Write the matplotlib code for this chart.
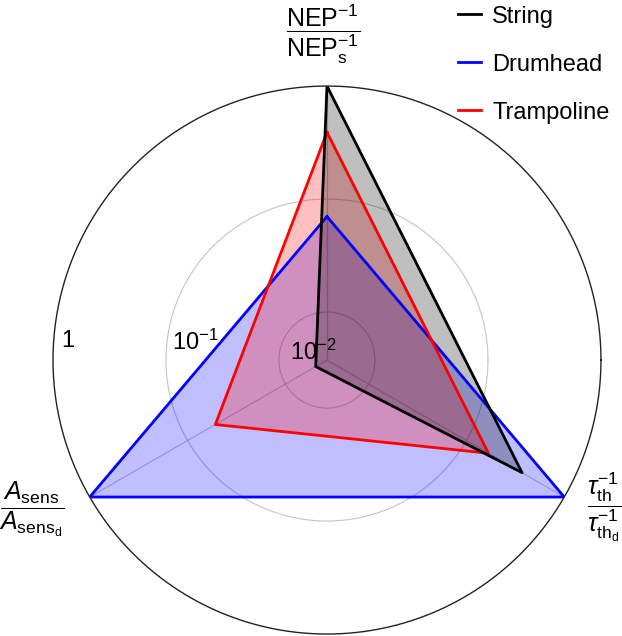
import numpy as np
import matplotlib.pyplot as plt

plt.rcParams['font.family'] = ['Liberation Sans', 'DejaVu Sans']
plt.rcParams['mathtext.fontset'] = 'custom'
plt.rcParams['mathtext.rm'] = 'Liberation Sans'
plt.rcParams['mathtext.it'] = 'Liberation Sans:italic'

# axes: NEP^-1 (top), tau^-1 (lower right), A_sens (lower left)
angles_deg = [90, 330, 210]
string_vals = [1.0, 0.37, 0.0049]
drum_vals = [0.07, 1.0, 1.0]
tramp_vals = [0.39, 0.168, 0.052]
names = ['String', 'Drumhead', 'Trampoline']
colors = ['black', 'blue', 'red']
rmin = -2.425

fig = plt.figure(figsize=(6.22, 6.36), dpi=100)
ax = fig.add_axes([0.0852, 0.0031, 0.881, 0.8616], projection='polar')

theta = np.deg2rad(angles_deg + angles_deg[:1])
series = [string_vals, drum_vals, tramp_vals]

# fills first (drum, trampoline, string), then outlines
for i in [1, 2, 0]:
    r = np.log10(series[i] + series[i][:1])
    ax.fill(theta, r, color=colors[i], alpha=0.25, lw=0, zorder=2)
handles = {}
for i in [1, 2, 0]:
    r = np.log10(series[i] + series[i][:1])
    ln, = ax.plot(theta, r, color=colors[i], lw=2.0, label=names[i], zorder=3)
    handles[i] = ln

ax.set_ylim(rmin, 0)
ax.set_thetagrids(angles_deg, labels=['', '', ''])
ax.set_rgrids([-2, -1], labels=['', ''])
ax.grid(True, color='#c4c4c4', lw=0.8)
ax.tick_params(axis='both', which='both', length=0, width=0, pad=0)
# outer circle (r = 1) drawn as a plain line instead of the spine
for sp in ax.spines.values():
    sp.set_visible(False)
circ = np.linspace(0, 2 * np.pi, 721)
ax.plot(circ, np.zeros_like(circ), color='#222222', lw=1.0, clip_on=False, zorder=4)

# radial tick labels
fs = 17
ax.text(np.deg2rad(175.9), -0.065, '1', ha='left', va='center', fontsize=fs, zorder=5)
ax.text(np.deg2rad(173.4), -1.044, r'$10^{-1}$', ha='left', va='center', fontsize=fs, zorder=5)
ax.text(np.deg2rad(167.8), -2.09, r'$10^{-2}$', ha='left', va='center', fontsize=fs, zorder=5)

# axis titles
tfs = 18
ax.text(np.deg2rad(90.7), 0.46, r'$\dfrac{\mathrm{NEP}^{-1}}{\mathrm{NEP}_{\mathrm{s}}^{-1}}$',
        ha='center', va='center', fontsize=tfs, clip_on=False)
ax.text(np.deg2rad(206.8), rmin + 331 / 113, r'$\dfrac{A_{\mathrm{sens}}}{A_{\mathrm{sens_d}}}$',
        ha='center', va='center', fontsize=tfs, clip_on=False)
ax.text(np.deg2rad(-27.9), rmin + 314 / 113, r'$\dfrac{\tau_{\mathrm{th}}^{-1}}{\tau_{\mathrm{th_d}}^{-1}}$',
        ha='center', va='center', fontsize=tfs, clip_on=False)

fig.legend([handles[0], handles[1], handles[2]], names, loc='upper right',
           bbox_to_anchor=(0.995, 1.006), frameon=False, fontsize=fs,
           handlelength=1.0, handletextpad=0.45, labelspacing=1.1, borderaxespad=0.0)

fig.savefig('out.png', dpi=100)
